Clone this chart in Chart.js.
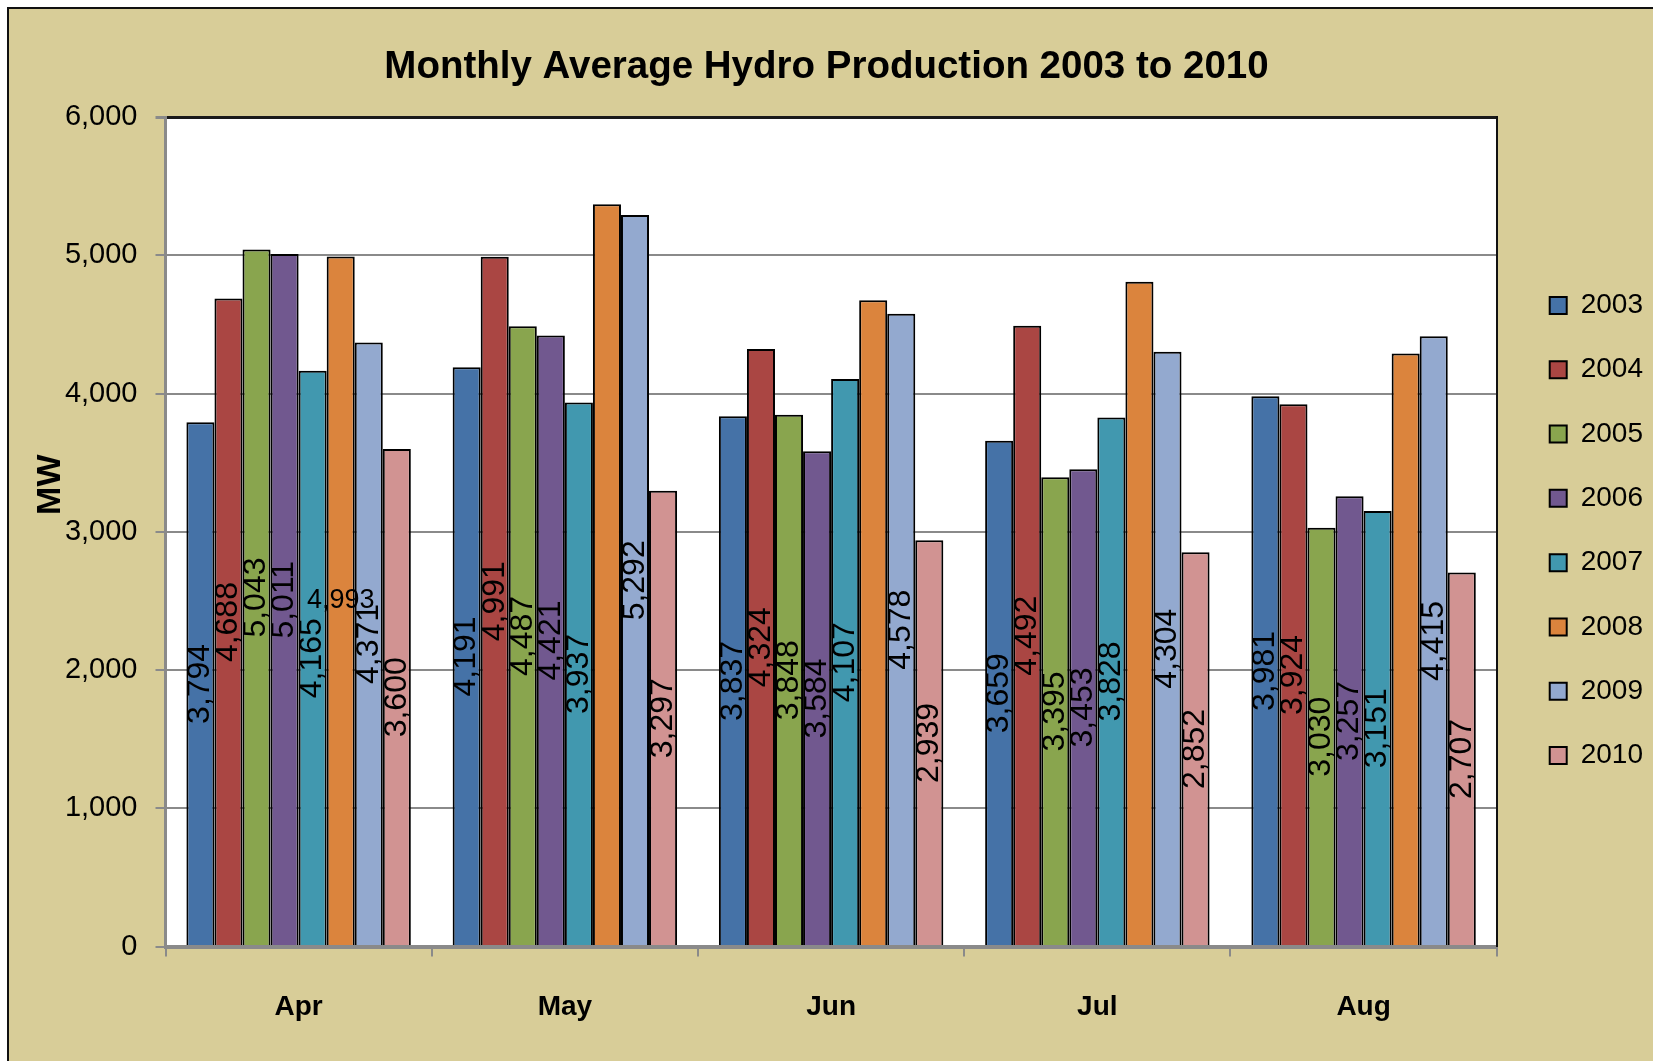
<!DOCTYPE html>
<html><head><meta charset="utf-8">
<script src="https://cdn.jsdelivr.net/npm/chart.js@4.4.1/dist/chart.umd.min.js"></script>
<style>
html,body{margin:0;padding:0;background:#fff;overflow:hidden;width:1653px;height:1061px;}
#frame{position:absolute;left:7px;top:7px;width:1700px;height:1100px;background:#D8CD98;border-left:2px solid #111;border-top:2px solid #111;}
#wrap{position:absolute;left:0;top:0;width:1653px;height:1061px;}
</style></head><body>
<div id="frame"></div>
<div id="wrap"><canvas id="c" width="1653" height="1061"></canvas></div>
<script>
// ---- data ----
const months = ['Apr', 'May', 'Jun', 'Jul', 'Aug'];
const years = ['2003', '2004', '2005', '2006', '2007', '2008', '2009', '2010'];
const v2003 = [3794, 4191, 3837, 3659, 3981];
const v2004 = [4688, 4991, 4324, 4492, 3924];
const v2005 = [5043, 4487, 3848, 3395, 3030];
const v2006 = [5011, 4421, 3584, 3453, 3257];
const v2007 = [4165, 3937, 4107, 3828, 3151];
const v2008 = [4993, 5370, 4675, 4810, 4290];
const v2009 = [4371, 5292, 4578, 4304, 4415];
const v2010 = [3600, 3297, 2939, 2852, 2707];
const labelShown2008 = [true, false, false, false, false];
const yMin = 0, yMax = 6000, yStep = 1000;
const chartTitle = 'Monthly Average Hydro Production 2003 to 2010';
const yTitle = 'MW';

// ---- style ----
const seriesValues = [v2003, v2004, v2005, v2006, v2007, v2008, v2009, v2010];
const seriesColors = ['#4572A7', '#AA4643', '#89A54E', '#71588F', '#4198AF', '#DB843D', '#93A9CF', '#D19392'];
const SANS = '"Liberation Sans", Arial, sans-serif';
const GRID = '#8a8a8a';

const fmt = v => v.toLocaleString('en-US');

const datasets = years.map((y, i) => ({
  label: y,
  data: seriesValues[i],
  backgroundColor: seriesColors[i],
  borderColor: '#000',
  borderWidth: 2,
  barPercentage: 1,
  categoryPercentage: 0.843,
  labelVisible: y === '2008' ? labelShown2008 : null,
  labelHorizontal: y === '2008'
}));

const plotBg = {
  id: 'plotBg',
  beforeDraw(chart) {
    const a = chart.chartArea, ctx = chart.ctx;
    ctx.save();
    ctx.fillStyle = '#fff';
    ctx.fillRect(a.left, a.top, a.right - a.left, a.bottom - a.top);
    ctx.restore();
  }
};

const barLabels = {
  id: 'barLabels',
  afterDatasetsDraw(chart) {
    const ctx = chart.ctx;
    ctx.save();
    ctx.fillStyle = '#000';
    ctx.textAlign = 'center';
    ctx.textBaseline = 'middle';
    chart.data.datasets.forEach((ds, i) => {
      const meta = chart.getDatasetMeta(i);
      meta.data.forEach((bar, j) => {
        if (ds.labelVisible && !ds.labelVisible[j]) return;
        const p = bar.getProps(['x', 'y', 'base'], true);
        const cy = (p.y + p.base) / 2;
        const txt = fmt(ds.data[j]);
        ctx.save();
        ctx.translate(p.x, cy);
        if (ds.labelHorizontal) {
          ctx.font = '27px ' + SANS;
        } else {
          ctx.rotate(-Math.PI / 2);
          ctx.font = '32px ' + SANS;
        }
        ctx.fillText(txt, 0, 0);
        ctx.restore();
      });
    });
    ctx.restore();
  }
};

new Chart(document.getElementById('c'), {
  type: 'bar',
  data: { labels: months, datasets },
  plugins: [plotBg, barLabels],
  options: {
    responsive: false,
    animation: false,
    devicePixelRatio: 1,
    layout: { padding: { top: 0, left: 0, right: 0, bottom: 0 } },
    plugins: {
      tooltip: { enabled: false },
      title: {
        display: true,
        text: chartTitle,
        color: '#000',
        font: { family: SANS, size: 38.5, weight: 'bold', lineHeight: 1.2 },
        padding: { top: 44, bottom: 27 }
      },
      legend: {
        position: 'right',
        labels: {
          color: '#000',
          font: { family: SANS, size: 28 },
          boxWidth: 17,
          boxHeight: 17,
          padding: 36.3
        }
      }
    },
    scales: {
      x: {
        position: 'bottom',
        grid: { display: true, drawOnChartArea: false, drawTicks: true, tickLength: 10, color: GRID, lineWidth: 2, offset: true },
        border: { display: true, color: GRID, width: 4, z: 1 },
        ticks: { color: '#000', font: { family: SANS, size: 28, weight: 'bold' }, padding: 34 },
        afterFit: s => { s.height = 114.4; }
      },
      y: {
        position: 'left',
        min: yMin, max: yMax,
        ticks: { stepSize: yStep, color: '#000', font: { family: SANS, size: 29 }, padding: 18, callback: v => fmt(v) },
        grid: {
          color: c => (c.tick && c.tick.value === yMax) ? '#1a1a1a' : GRID,
          lineWidth: c => (c.tick && c.tick.value === yMax) ? 3 : 2,
          tickColor: GRID,
          tickLength: 10
        },
        border: { display: true, color: GRID, width: 3 },
        title: {
          display: true,
          text: '          ' + yTitle,
          color: '#000',
          font: { family: SANS, size: 34, weight: 'bold' },
          padding: { top: 30, bottom: 0 }
        },
        afterFit: s => { s.width = 165.5; }
      },
      y2: {
        position: 'right',
        display: true,
        grid: { display: false },
        ticks: { display: false },
        border: { display: true, color: '#111', width: 2, z: 1 },
        afterFit: s => { s.width = 16.7; }
      }
    }
  }
});
</script>
</body></html>
